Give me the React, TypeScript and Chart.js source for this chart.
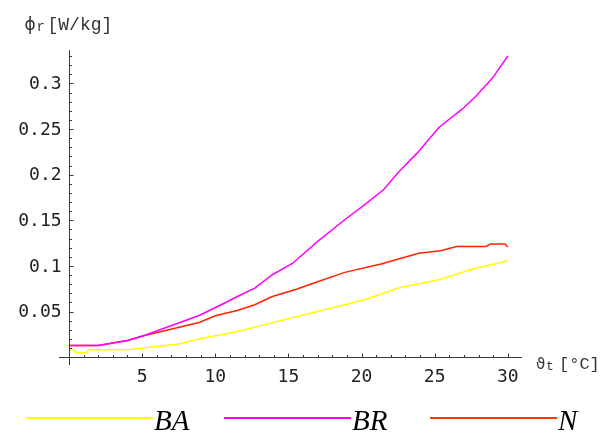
import React, { useEffect, useRef } from "react";
import { Chart, registerables } from "chart.js";

Chart.register(...registerables);

// ---- data ----
const seriesLabels = ["BA", "BR", "N"];
const seriesColors = ["#ffff00", "#ff00ff", "#ff2400"];

const baX = [0, 0.3, 0.45, 1.2, 1.35, 4.0, 7.5, 8.9, 10.4, 11.75, 12.7, 15.6, 18.85, 20.2, 21.4, 22.5, 25.3, 27.6, 30];
const baY = [0.0085, 0.0085, 0.005, 0.005, 0.0082, 0.0082, 0.0145, 0.02, 0.0246, 0.029, 0.033, 0.0447, 0.0575, 0.063, 0.0695, 0.0758, 0.085, 0.0966, 0.1057];

const brX = [0, 2, 4, 5.1, 8.9, 10.4, 11.75, 12.7, 13.9, 15.3, 17.0, 18.85, 20.2, 21.5, 22.6, 23.8, 25.3, 26.9, 27.8, 28.95, 30];
const brY = [0.013, 0.013, 0.0184, 0.0235, 0.0458, 0.0575, 0.0685, 0.0758, 0.0904, 0.103, 0.127, 0.1506, 0.167, 0.1835, 0.204, 0.2236, 0.252, 0.272, 0.2857, 0.3058, 0.33];

const nX = [0, 2, 4, 5.1, 8.9, 10.0, 11.5, 12.7, 13.9, 15.6, 16.55, 18.85, 21.4, 23.9, 25.4, 26.5, 28.5, 28.8, 29.8, 30];
const nY = [0.013, 0.013, 0.0184, 0.0235, 0.038, 0.0455, 0.0513, 0.0575, 0.0666, 0.0747, 0.0802, 0.093, 0.1024, 0.114, 0.1166, 0.1213, 0.1213, 0.124, 0.124, 0.1207];

const xTickValues = [5, 10, 15, 20, 25, 30];
const xTickLabels = ["5", "10", "15", "20", "25", "30"];
const yTickValues = [0.05, 0.1, 0.15, 0.2, 0.25, 0.3];
const yTickLabels = ["0.05", "0.1", "0.15", "0.2", "0.25", "0.3"];

const xMinorStep = 1;
const yMinorStep = 0.01;

const pairs = (xs: number[], ys: number[]) => xs.map((x, i) => ({ x, y: ys[i] }));

const findLabel = (v: number, vals: number[], labels: string[]) => {
  const i = vals.findIndex((t) => Math.abs(t - v) < 1e-6);
  return i >= 0 ? labels[i] : "";
};

const TICK_FONT = { family: "'DejaVu Sans Mono', monospace", size: 18 };
const AXIS_COLOR = "#3a3a3a";

const tickMarksPlugin = {
  id: "tickMarks",
  afterDraw(chart: any) {
    const { ctx } = chart;
    const xs = chart.scales.x;
    const ys = chart.scales.y;
    const x0 = Math.round(xs.getPixelForValue(0)) + 0.5;
    const y0 = Math.round(ys.getPixelForValue(0)) + 0.5;
    ctx.save();
    ctx.strokeStyle = AXIS_COLOR;
    ctx.lineWidth = 1;
    ctx.beginPath();
    // vertical axis line through x = 0
    ctx.moveTo(x0, ys.top);
    ctx.lineTo(x0, ys.bottom);
    xs.ticks.forEach((t: any) => {
      const major = xTickValues.some((v) => Math.abs(v - t.value) < 1e-6);
      const len = major ? 4 : 2.5;
      const px = Math.round(xs.getPixelForValue(t.value)) + 0.5;
      ctx.moveTo(px, y0);
      ctx.lineTo(px, y0 - len);
    });
    ys.ticks.forEach((t: any) => {
      const major = yTickValues.some((v) => Math.abs(v - t.value) < 1e-6);
      const len = major ? 4 : 2.5;
      const py = Math.round(ys.getPixelForValue(t.value)) + 0.5;
      ctx.moveTo(x0, py);
      ctx.lineTo(x0 + len, py);
    });
    ctx.stroke();

    // axis titles
    ctx.fillStyle = "#333";
    ctx.textBaseline = "alphabetic";
    ctx.textAlign = "left";
    const ty = ys.top - 20;
    ctx.font = "17px 'DejaVu Sans'";
    ctx.fillText("\u03d5", x0 - 45, ty);
    ctx.font = "14px 'Liberation Mono'";
    ctx.fillText("r", x0 - 33, ty + 1);
    ctx.font = "18px 'Liberation Mono'";
    ctx.fillText("[W/kg]", x0 - 22, ty);
    const tx = xs.right + 15;
    const tby = y0 + 11;
    ctx.font = "15px 'DejaVu Sans'";
    ctx.fillText("\u03d1", tx, tby);
    ctx.font = "13px 'Liberation Mono'";
    ctx.fillText("t", tx + 10, tby + 1);
    ctx.font = "17px 'Liberation Mono'";
    ctx.fillText("[\u00b0C]", tx + 23, tby);
    ctx.restore();
  },
};

const legendPlugin = {
  id: "customLegend",
  afterDraw(chart: any, _args: any, opts: any) {
    const { ctx } = chart;
    const starts: number[] = opts.starts;
    const lineLen: number = opts.lineLength;
    const y: number = opts.y;
    ctx.save();
    chart.data.datasets.forEach((ds: any, i: number) => {
      const sx = starts[i];
      ctx.strokeStyle = opts.colors[i];
      ctx.lineWidth = 2;
      ctx.beginPath();
      ctx.moveTo(sx, y);
      ctx.lineTo(sx + lineLen, y);
      ctx.stroke();
      ctx.fillStyle = "#000";
      ctx.font = "italic 29px 'Liberation Serif'";
      ctx.textBaseline = "alphabetic";
      ctx.textAlign = "left";
      ctx.fillText(ds.label, sx + lineLen + 1, y + 12);
    });
    ctx.restore();
  },
};

export default function App() {
  const canvasRef = useRef<HTMLCanvasElement | null>(null);

  useEffect(() => {
    if (!canvasRef.current) return;
    const data = [pairs(baX, baY), pairs(brX, brY), pairs(nX, nY)];
    const chart = new Chart(canvasRef.current, {
      type: "line",
      data: {
        datasets: data.map((d, i) => ({
          label: seriesLabels[i],
          data: d,
          borderColor: seriesColors[i],
          backgroundColor: seriesColors[i],
          borderWidth: 1.5,
          pointRadius: 0,
          tension: 0,
          fill: false,
        })),
      },
      options: {
        responsive: false,
        animation: false,
        events: [],
        layout: { padding: { left: 59, right: 82, top: 50, bottom: 68 } },
        plugins: {
          legend: { display: false },
          tooltip: { enabled: false },
          customLegend: {
            starts: [26, 224, 430],
            lineLength: 127,
            y: 418,
            colors: ["#ffff00", "#ff00ff", "#ff3a00"],
          },
        } as any,
        scales: {
          x: {
            type: "linear",
            axis: "x",
            min: -0.68,
            max: 30.9,
            position: { y: 0 } as any,
            grid: { display: false, drawTicks: false, tickLength: 0 },
            border: { display: true, color: AXIS_COLOR, width: 1 },
            afterBuildTicks: (scale: any) => {
              const t = [];
              for (let i = 1; i <= 30; i++) t.push({ value: i * xMinorStep });
              scale.ticks = t;
            },
            ticks: {
              autoSkip: false,
              maxRotation: 0,
              padding: 9,
              color: "#222",
              font: TICK_FONT,
              callback: (v: any) => findLabel(Number(v), xTickValues, xTickLabels),
            },
          },
          y: {
            type: "linear",
            axis: "y",
            min: -0.0085,
            max: 0.3366,
            // labels are right-aligned at this x value (8px left of the axis line at x = 0)
            position: { x: -0.5 } as any,
            grid: { display: false, drawTicks: false, tickLength: 0 },
            border: { display: false },
            afterBuildTicks: (scale: any) => {
              const t = [];
              for (let i = 1; i <= 33; i++) t.push({ value: Math.round(i * yMinorStep * 100) / 100 });
              scale.ticks = t;
            },
            ticks: {
              autoSkip: false,
              padding: 8,
              labelOffset: 1,
              color: "#222",
              font: TICK_FONT,
              callback: (v: any) => findLabel(Number(v), yTickValues, yTickLabels),
            },
          },
        } as any,
      },
      plugins: [tickMarksPlugin, legendPlugin],
    });
    return () => chart.destroy();
  }, []);

  return (
    <div style={{ position: "absolute", left: 0, top: 0, width: 603, height: 433, background: "#fff" }}>
      <canvas ref={canvasRef} width={603} height={433} />
    </div>
  );
}
